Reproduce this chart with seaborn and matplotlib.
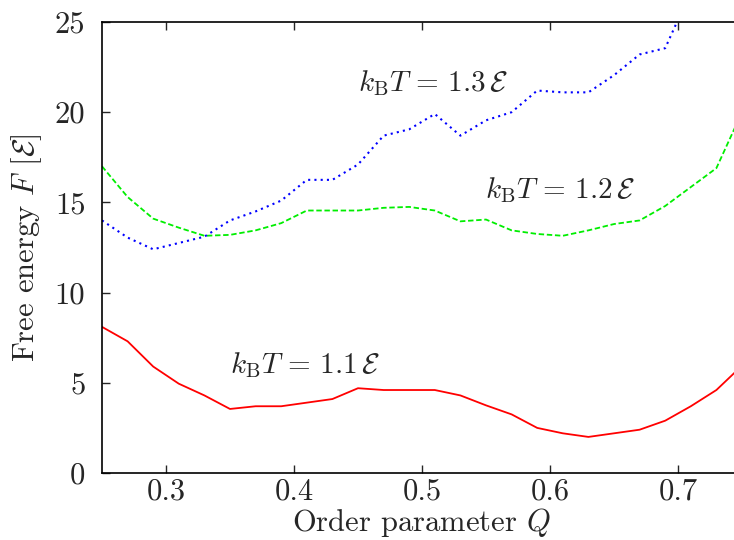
import matplotlib
matplotlib.use("Agg")
import matplotlib.pyplot as plt
import seaborn as sns
import pandas as pd

q_red = [0.25, 0.27, 0.29, 0.31, 0.33, 0.35, 0.37, 0.39, 0.41, 0.43, 0.45, 0.47, 0.49,
         0.51, 0.53, 0.55, 0.57, 0.59, 0.61, 0.63, 0.65, 0.67, 0.69, 0.71, 0.73, 0.75]
f_red = [8.1, 7.3, 5.9, 4.95, 4.3, 3.55, 3.7, 3.7, 3.9, 4.1, 4.7, 4.6, 4.6,
         4.6, 4.3, 3.75, 3.25, 2.5, 2.2, 2.0, 2.2, 2.4, 2.9, 3.7, 4.6, 5.95]

q_green = q_red
f_green = [17.0, 15.3, 14.1, 13.6, 13.15, 13.2, 13.45, 13.85, 14.55, 14.55, 14.55, 14.7, 14.75,
           14.55, 13.95, 14.05, 13.45, 13.25, 13.15, 13.45, 13.8, 14.0, 14.8, 15.85, 16.9, 20.0]

q_blue = [0.25, 0.27, 0.29, 0.31, 0.33, 0.35, 0.37, 0.39, 0.41, 0.43, 0.45, 0.47, 0.49,
          0.51, 0.53, 0.55, 0.57, 0.59, 0.61, 0.63, 0.65, 0.67, 0.69, 0.71]
f_blue = [14.0, 13.05, 12.4, 12.75, 13.1, 14.0, 14.5, 15.1, 16.25, 16.25, 17.1, 18.7, 19.05,
          19.9, 18.7, 19.55, 20.0, 21.2, 21.1, 21.1, 22.05, 23.2, 23.55, 26.7]

labels = [r"$k_\mathrm{B}T\,=\,1.1\,\mathcal{E}$",
          r"$k_\mathrm{B}T\,=\,1.2\,\mathcal{E}$",
          r"$k_\mathrm{B}T\,=\,1.3\,\mathcal{E}$"]
x_ticks = [0.3, 0.4, 0.5, 0.6, 0.7]
y_ticks = [0, 5, 10, 15, 20, 25]

sns.set_style("ticks")
plt.rcParams["font.family"] = "serif"
plt.rcParams["font.serif"] = ["cmr10", "DejaVu Serif"]
plt.rcParams["mathtext.fontset"] = "cm"
plt.rcParams["axes.formatter.use_mathtext"] = True

txt = "#262626"
fs = 22
fig = plt.figure(figsize=(7.34, 5.40), dpi=100)
ax = fig.add_axes([102 / 734, 67 / 540, 640 / 734, 451 / 540])

df_r = pd.DataFrame({"Q": q_red, "F": f_red})
df_g = pd.DataFrame({"Q": q_green, "F": f_green})
df_b = pd.DataFrame({"Q": q_blue, "F": f_blue})

sns.lineplot(data=df_r, x="Q", y="F", ax=ax, color="#ff0000", lw=1.3, linestyle="-")
sns.lineplot(data=df_g, x="Q", y="F", ax=ax, color="#00ee00", lw=1.3, linestyle=(0, (3, 1.5)))
sns.lineplot(data=df_b, x="Q", y="F", ax=ax, color="#0000ff", lw=1.5, linestyle=(0, (1, 2)))

ax.set_xlim(0.25, 0.75)
ax.set_ylim(0, 25)
ax.set_xticks(x_ticks)
ax.set_yticks(y_ticks)
ax.set_xticklabels([f"{v:.1f}" for v in x_ticks])
ax.set_yticklabels([str(v) for v in y_ticks])
ax.tick_params(direction="in", length=6, width=1, top=True, right=True,
               labelsize=fs, colors=txt, labelcolor=txt)
ax.tick_params(axis="x", pad=4)
ax.tick_params(axis="y", pad=12)
for s in ax.spines.values():
    s.set_color("black")
    s.set_linewidth(1.2)

ax.set_xlabel(r"Order parameter $Q$", fontsize=fs, color=txt)
ax.xaxis.set_label_coords((421 - 102) / 640, -(539 - 473) / 451, transform=ax.transAxes)
ax.xaxis.label.set_va("bottom")
ax.set_ylabel(r"Free energy $F$ [$\mathcal{E}$]", fontsize=fs, color=txt, labelpad=8)

ax.text(0.35, 6.0, labels[0], fontsize=21, color=txt, va="center", ha="left")
ax.text(0.549, 15.7, labels[1], fontsize=21, color=txt, va="center", ha="left")
ax.text(0.45, 21.6, labels[2], fontsize=21, color=txt, va="center", ha="left")

fig.savefig("out.png", dpi=100)
